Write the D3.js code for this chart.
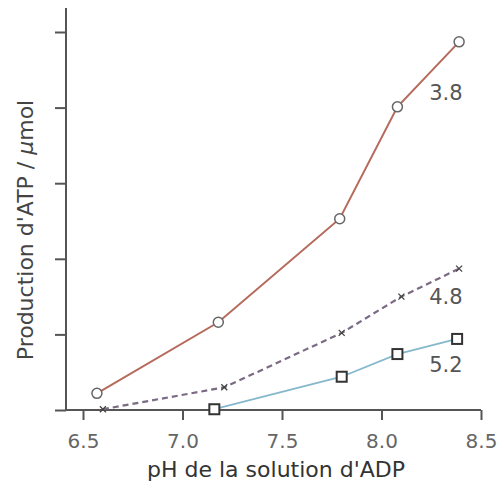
<!DOCTYPE html>
<html>
<head>
<meta charset="utf-8">
<script src="https://cdn.jsdelivr.net/npm/d3@7"></script>
<style>
  body { margin: 0; background: #fff; }
  text { font-family: "DejaVu Sans", Verdana, sans-serif; }
</style>
</head>
<body>
<div id="chart"></div>
<script>
// pH values and ATP production (in tick units) per ADP series
const ph38 = [6.57, 7.18, 7.79, 8.08, 8.39];
const atp38 = [0.22, 1.16, 2.53, 4.01, 4.87];
const ph48 = [6.6, 7.21, 7.8, 8.1, 8.39];
const atp48 = [0.01, 0.30, 1.02, 1.50, 1.87];
const ph52 = [7.16, 7.8, 8.08, 8.38];
const atp52 = [0.01, 0.44, 0.74, 0.94];
const xTicks = [6.5, 7.0, 7.5, 8.0, 8.5];
const yTicks = [0, 1, 2, 3, 4, 5];
const seriesLabels = ['3.8', '4.8', '5.2'];

const width = 498;
const height = 488;
const margin = { top: 8, right: 17, bottom: 78, left: 66 };

const svg = d3.select('#chart')
  .append('svg')
  .attr('width', width)
  .attr('height', height);

const x = d3.scaleLinear()
  .domain([6.5, 8.5])
  .range([83, 481]);

const y = d3.scaleLinear()
  .domain([0, 5])
  .range([410, 32]);

const axisColor = '#555';

// x axis
const gx = svg.append('g')
  .attr('transform', `translate(0,${y(0)})`)
  .call(d3.axisBottom(x).tickValues(xTicks).tickFormat(d3.format('.1f')).tickSize(10).tickSizeOuter(0));
gx.select('.domain').remove();
gx.append('line')
  .attr('x1', margin.left).attr('x2', x(8.5))
  .attr('stroke', axisColor).attr('stroke-width', 2);
gx.selectAll('.tick line').attr('stroke', axisColor).attr('stroke-width', 2);
gx.selectAll('.tick text')
  .attr('fill', '#666')
  .attr('y', 24)
  .style('font-size', '20px');

// y axis
const gy = svg.append('g')
  .attr('transform', `translate(${margin.left},0)`)
  .call(d3.axisLeft(y).tickValues(yTicks).tickFormat('').tickSize(11).tickSizeOuter(0));
gy.select('.domain').remove();
gy.append('line')
  .attr('y1', margin.top).attr('y2', y(0))
  .attr('stroke', axisColor).attr('stroke-width', 2);
gy.selectAll('.tick line').attr('stroke', axisColor).attr('stroke-width', 2);

// axis titles
svg.append('text')
  .attr('x', 276)
  .attr('y', 477)
  .attr('text-anchor', 'middle')
  .attr('fill', '#333')
  .style('font-size', '22px')
  .text("pH de la solution d'ADP");

const yTitle = svg.append('text')
  .attr('transform', 'translate(33,230) rotate(-90)')
  .attr('text-anchor', 'middle')
  .attr('fill', '#444')
  .style('font-size', '22px');
yTitle.append('tspan').text("Production d'ATP / ");
yTitle.append('tspan').style('font-style', 'italic').text('\u03bc');
yTitle.append('tspan').text('mol');

const line = d3.line()
  .x(d => x(d[0]))
  .y(d => y(d[1]));

const d38 = ph38.map((p, i) => [p, atp38[i]]);
const d48 = ph48.map((p, i) => [p, atp48[i]]);
const d52 = ph52.map((p, i) => [p, atp52[i]]);

// 5.2 series
svg.append('path')
  .datum(d52)
  .attr('d', line)
  .attr('fill', 'none')
  .attr('stroke', '#86b8cc')
  .attr('stroke-width', 1.8);

svg.selectAll('.sq')
  .data(d52)
  .enter()
  .append('rect')
  .attr('x', d => x(d[0]) - 5)
  .attr('y', d => y(d[1]) - 5)
  .attr('width', 10)
  .attr('height', 10)
  .attr('fill', '#fff')
  .attr('stroke', '#333')
  .attr('stroke-width', 2);

// 4.8 series
svg.append('path')
  .datum(d48)
  .attr('d', line)
  .attr('fill', 'none')
  .attr('stroke', '#7a6a84')
  .attr('stroke-width', 2.2)
  .attr('stroke-dasharray', '6,4');

svg.selectAll('.cross')
  .data(d48)
  .enter()
  .append('path')
  .attr('d', d => {
    const cx = x(d[0]), cy = y(d[1]), s = 3;
    return `M${cx - s},${cy - s}L${cx + s},${cy + s}M${cx - s},${cy + s}L${cx + s},${cy - s}`;
  })
  .attr('stroke', '#444')
  .attr('stroke-width', 1.3);

// 3.8 series
svg.append('path')
  .datum(d38)
  .attr('d', line)
  .attr('fill', 'none')
  .attr('stroke', '#b66a5c')
  .attr('stroke-width', 2);

svg.selectAll('.circ')
  .data(d38)
  .enter()
  .append('circle')
  .attr('cx', d => x(d[0]))
  .attr('cy', d => y(d[1]))
  .attr('r', 5)
  .attr('fill', '#fff')
  .attr('stroke', '#666')
  .attr('stroke-width', 1.5);

// series labels
const labelPos = [[8.24, 4.10], [8.24, 1.40], [8.24, 0.50]];
svg.selectAll('.lab')
  .data(seriesLabels)
  .enter()
  .append('text')
  .attr('x', (d, i) => x(labelPos[i][0]))
  .attr('y', (d, i) => y(labelPos[i][1]))
  .attr('text-anchor', 'start')
  .attr('fill', '#555')
  .style('font-size', '21px')
  .text(d => d);
</script>
</body>
</html>
